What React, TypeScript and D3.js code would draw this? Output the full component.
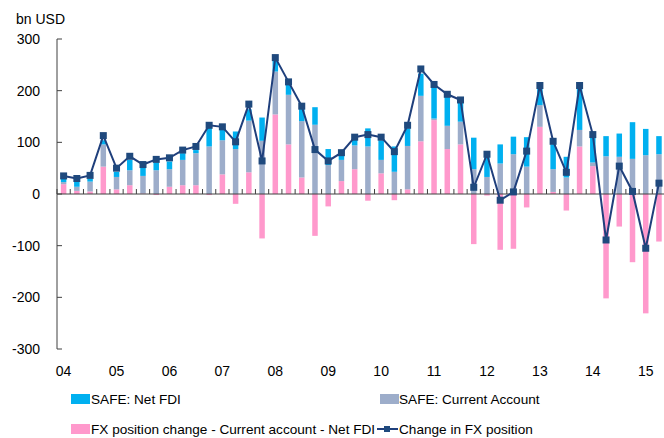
import React from "react";
import * as d3 from "d3";

const quarters = [
  "04Q1","04Q2","04Q3","04Q4","05Q1","05Q2","05Q3","05Q4",
  "06Q1","06Q2","06Q3","06Q4","07Q1","07Q2","07Q3","07Q4",
  "08Q1","08Q2","08Q3","08Q4","09Q1","09Q2","09Q3","09Q4",
  "10Q1","10Q2","10Q3","10Q4","11Q1","11Q2","11Q3","11Q4",
  "12Q1","12Q2","12Q3","12Q4","13Q1","13Q2","13Q3","13Q4",
  "14Q1","14Q2","14Q3","14Q4","15Q1","15Q2",
];

const netFDI = [
  7, 10, 6, 8, 10, 20, 19, 15, 15, 13, 6, 37, 20, 34, 22, 45,
  22, 19, 31, 34, 31, 8, 12, 35, 38, 49, 34, 43, 62, 56, 39, 61,
  48, 37, 34, 57, 36, 48, 40, 84, 58, 39, 45, 71, 51, 35,
];

const currentAccount = [
  4, 8, 19, 43, 24, 29, 34, 46, 34, 49, 62, 92, 66, 87, 100, 103,
  83, 96, 109, 134, 56, 41, 46, 92, 26, 43, 84, 88, 3, 45, 44, 48,
  33, 59, 77, 53, 42, 44, 32, 32, 7, 73, 72, 68, 75, 77,
];

const residual = [
  19, 6, 5, 53, 9, 17, 1, -2, 14, 17, 17, -2, 38, -19, 42, -86,
  154, 96, 32, -81, -24, 25, 48, -13, 40, -12, 9, 102, 143, 87, 96, -97,
  -3, -108, -106, -26, 130, 4, -32, 92, 54, -202, -63, -132, -231, -92,
];

const fxChange = [
  35, 30, 36, 113, 50, 73, 57, 67, 70, 85, 92, 133, 130, 101, 174, 64,
  264, 217, 170, 86, 64, 80, 110, 115, 110, 82, 133, 242, 212, 193, 182, 13,
  77, -12, 4, 83, 210, 102, 42, 210, 115, -89, 54, 5, -105, 21,
];

const yearLabels = ["04","05","06","07","08","09","10","11","12","13","14","15"];
const yTicks = [-300, -200, -100, 0, 100, 200, 300];

const C_FDI = "#00B0F0";
const C_CA = "#9DADCA";
const C_RES = "#FF99CC";
const C_LINE = "#1F3F7C";
const C_MARK = "#1F497D";
const AXIS = "#404040";
const FONT = "'Liberation Sans', Arial, sans-serif";

export default function App() {
  const W = 664, H = 438;
  const x0 = 57, step = 13.23;
  const x = d3.scaleBand<string>()
    .domain(quarters)
    .range([x0, x0 + step * quarters.length])
    .padding(0);
  const y = d3.scaleLinear().domain([-300, 300]).range([349, 39]);
  const bw = 5.5;

  const table = quarters.map((q, i) => ({
    q,
    res: residual[i],
    ca: currentAccount[i],
    fdi: netFDI[i],
  }));
  const stack = d3.stack<any>()
    .keys(["res", "ca", "fdi"])
    .offset(d3.stackOffsetDiverging);
  const series = stack(table);
  const colors: Record<string, string> = { res: C_RES, ca: C_CA, fdi: C_FDI };

  const cx = (q: string) => (x(q) as number) + x.bandwidth() / 2;
  const line = d3.line<number>()
    .x((_, i) => cx(quarters[i]))
    .y((d) => y(d));

  const boundaries = d3.range(quarters.length + 1).map((i) => x0 + i * x.step());

  return (
    <svg width={W} height={H} style={{ position: "absolute", left: 0, top: 0, background: "#fff" }} fontFamily={FONT}>
      <text x={16} y={24} fontSize={14} fill="#000">bn USD</text>

      {/* bars */}
      {series.map((s) => (
        <g key={s.key} fill={colors[s.key]}>
          {s.map((d, i) => {
            const top = y(Math.max(d[0], d[1]));
            const bot = y(Math.min(d[0], d[1]));
            return (
              <rect key={i} x={cx(quarters[i]) - bw / 2} y={top} width={bw} height={Math.max(0, bot - top)} />
            );
          })}
        </g>
      ))}

      {/* y axis */}
      <line x1={x0} x2={x0} y1={y(300)} y2={y(-300)} stroke={AXIS} strokeWidth={1} />
      {yTicks.map((t) => (
        <g key={t}>
          <line x1={x0} x2={x0 + 5} y1={y(t)} y2={y(t)} stroke={AXIS} />
          <text x={40} y={y(t) + 5} textAnchor="end" fontSize={14} fill="#000">{t}</text>
        </g>
      ))}

      {/* x axis at zero */}
      <line x1={x0} x2={W} y1={y(0)} y2={y(0)} stroke={AXIS} strokeWidth={1} />
      {boundaries.map((bx, i) => (
        <line key={i} x1={bx} x2={bx} y1={y(0)} y2={y(0) - 5} stroke={AXIS} />
      ))}
      {yearLabels.map((lab, i) => (
        <text key={lab} x={cx(quarters[i * 4])} y={376} textAnchor="middle" fontSize={14} fill="#000">{lab}</text>
      ))}

      {/* line */}
      <path d={line(fxChange) || ""} fill="none" stroke={C_LINE} strokeWidth={2} />
      {fxChange.map((v, i) => (
        <rect key={i} x={cx(quarters[i]) - 3.5} y={y(v) - 3.5} width={7} height={7} fill={C_MARK} />
      ))}

      {/* legend */}
      <g fontSize={13.6} fill="#000">
        <rect x={71} y={394} width={19} height={10} fill={C_FDI} />
        <text x={91} y={404}>SAFE: Net FDI</text>
        <rect x={380} y={394} width={19} height={10} fill={C_CA} />
        <text x={399} y={404}>SAFE: Current Account</text>
        <rect x={71} y={424} width={19} height={10} fill={C_RES} />
        <text x={91} y={434}>FX position change - Current account - Net FDI</text>
        <line x1={377} x2={398} y1={429} y2={429} stroke={C_LINE} strokeWidth={2} />
        <rect x={384} y={426} width={6} height={6} fill={C_MARK} />
        <text x={399} y={434}>Change in FX position</text>
      </g>
    </svg>
  );
}
